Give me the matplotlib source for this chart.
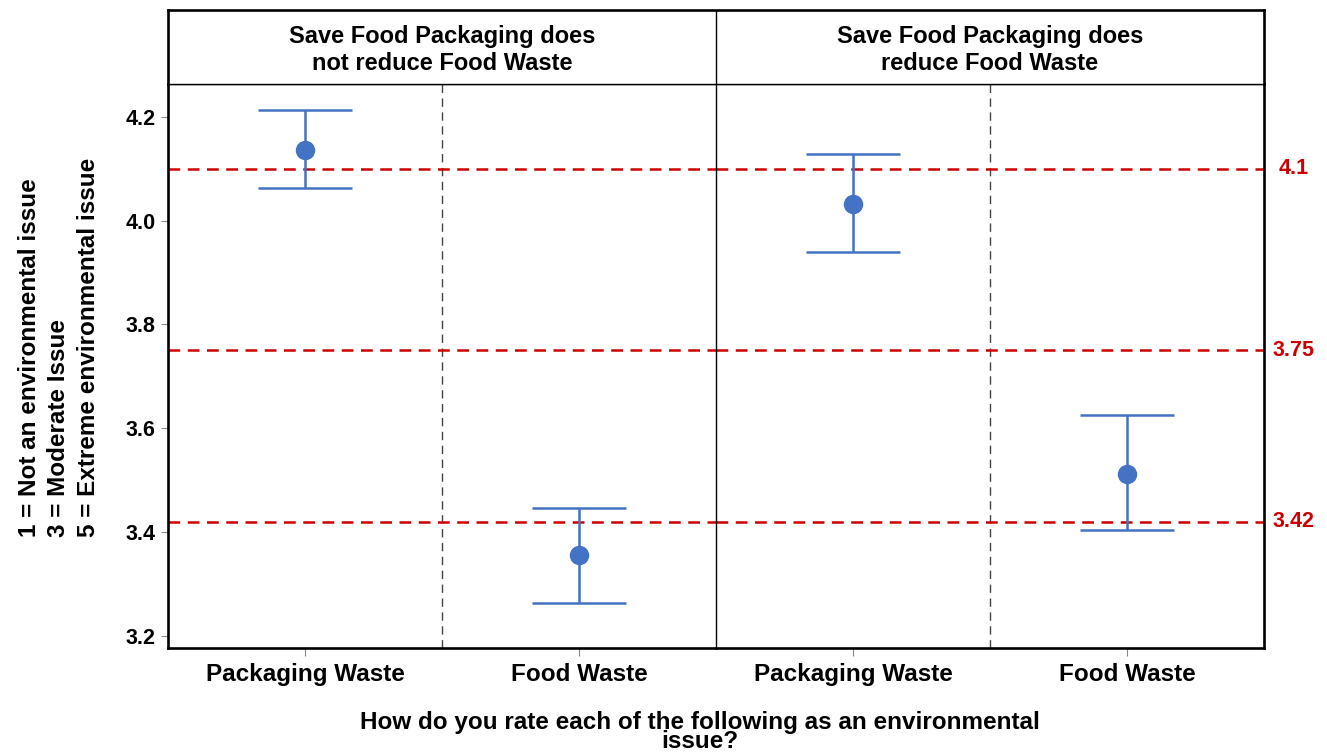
import numpy as np
import matplotlib
matplotlib.use('Agg')
import matplotlib.pyplot as plt
from matplotlib.transforms import blended_transform_factory

plt.rcParams['font.family'] = ['Liberation Sans', 'DejaVu Sans']
plt.rcParams['font.weight'] = 'bold'

# data
categories = ['Packaging Waste', 'Food Waste']
panel_titles = ['Save Food Packaging does\nnot reduce Food Waste',
                'Save Food Packaging does\nreduce Food Waste']
means_not = [4.135, 3.356]
lower_not = [4.062, 3.263]
upper_not = [4.212, 3.446]
means_red = [4.032, 3.512]
lower_red = [3.940, 3.404]
upper_red = [4.129, 3.626]
ref_lines = [4.1, 3.75, 3.42]
ref_labels = ['4.1', '3.75', '3.42']
yticks = [3.2, 3.4, 3.6, 3.8, 4.0, 4.2]

blue = '#4472C4'
red = '#CC0000'
W, H = 1327, 755

fig = plt.figure(figsize=(W / 100, H / 100), dpi=100)
left, mid, right = 168 / W, 716 / W, 1264 / W
bot, top, htop = 1 - 648 / H, 1 - 84 / H, 1 - 10 / H

ax1 = fig.add_axes([left, bot, mid - left, top - bot])
ax2 = fig.add_axes([mid, bot, right - mid, top - bot], sharey=ax1)
hx = fig.add_axes([left, top, right - left, htop - top])

series = [(means_not, lower_not, upper_not), (means_red, lower_red, upper_red)]
x = np.arange(len(categories))
for ax, (m, lo, up) in zip([ax1, ax2], series):
    m = np.array(m)
    err = [m - np.array(lo), np.array(up) - m]
    ax.errorbar(x, m, yerr=err, fmt='o', color=blue, ms=13, elinewidth=1.8,
                capsize=34, capthick=1.8, zorder=3)
    for yv in ref_lines:
        ax.axhline(yv, color=red, lw=1.8, ls=(0, (4.7, 3)), zorder=2)
    ax.axvline(0.5, color='#444444', lw=1.0, ls=(0, (6, 4)), zorder=1)
    ax.set_xlim(-0.5, 1.5)
    ax.set_xticks(x)
    ax.set_xticklabels(categories, fontsize=17.5, fontweight='bold')
    ax.tick_params(axis='x', length=6, color='#888888', pad=5)
    for s in ax.spines.values():
        s.set_linewidth(1.0)
        s.set_color('black')

ax1.set_ylim(3.177, 4.263)
ax1.set_yticks(yticks)
ax1.set_yticklabels([f'{v:.1f}' for v in yticks], fontsize=15.5, fontweight='bold')
ax1.tick_params(axis='y', length=5, color='#888888', pad=4)
ax2.tick_params(axis='y', left=False, labelleft=False)
ax1.spines['left'].set_linewidth(1.9)
ax1.spines['bottom'].set_linewidth(1.9)
ax1.spines['right'].set_visible(False)
ax2.spines['bottom'].set_linewidth(1.9)
ax2.spines['right'].set_linewidth(1.9)

# red reference labels on the right
tr = blended_transform_factory(ax2.transAxes, ax2.transData)
for yv, lab in zip(ref_lines, ref_labels):
    ax2.text(1 + 30 / 548, yv, lab, transform=tr, color=red, fontsize=15.5,
             fontweight='bold', ha='center', va='center', clip_on=False)

# header strip
hx.set_xlim(0, 2)
hx.set_ylim(0, 1)
hx.set_xticks([])
hx.set_yticks([])
hx.axvline(1, color='black', lw=1.0)
for i, t in enumerate(panel_titles):
    hx.text(i + 0.5, 0.46, t, ha='center', va='center', fontsize=17,
            fontweight='bold', linespacing=1.22)
for k in ['top', 'left', 'right']:
    hx.spines[k].set_linewidth(1.9)
hx.spines['bottom'].set_linewidth(1.0)

# axis titles
fig.text(700 / W, 1 - 732 / H,
         'How do you rate each of the following as an environmental\nissue?',
         ha='center', va='center', fontsize=17.5, fontweight='bold', linespacing=0.78)
fig.text(59 / W, 1 - 537 / H,
         '1 = Not an environmental issue\n3 = Moderate Issue\n5 = Extreme environmental issue',
         rotation=90, ha='center', va='bottom', multialignment='left',
         fontsize=17.5, fontweight='bold', linespacing=1.34)

fig.savefig('out.png', dpi=100)
